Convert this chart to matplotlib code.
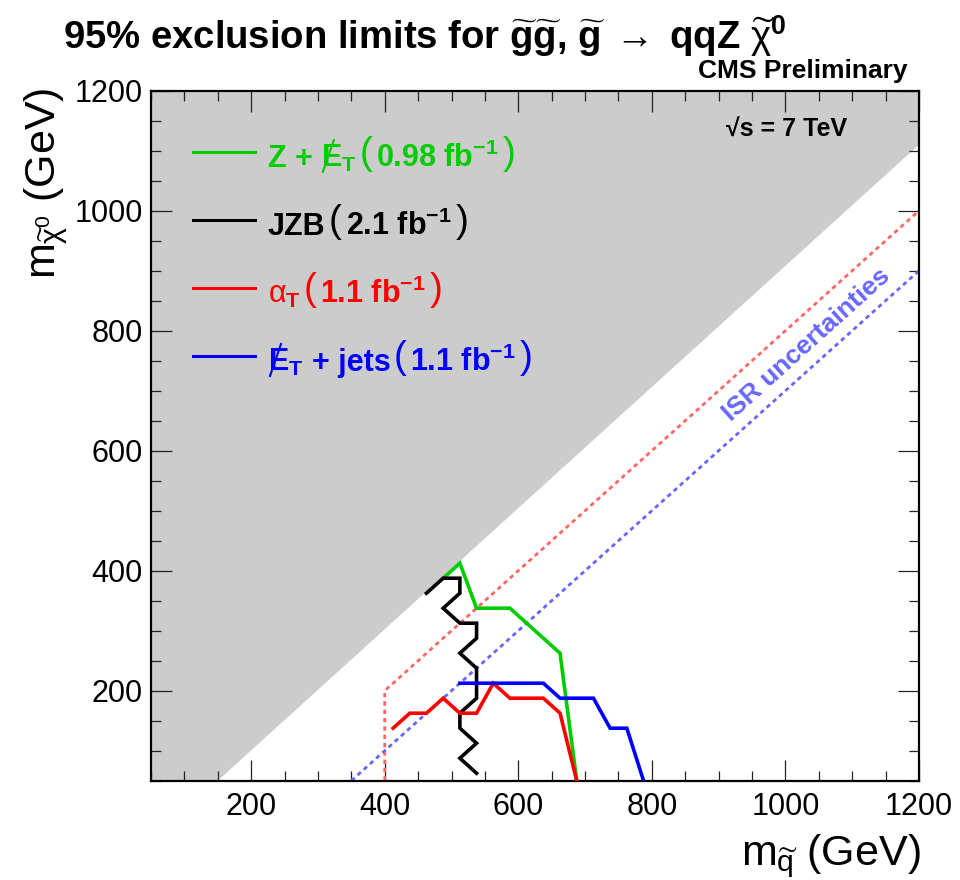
"""CMS SUSY: 95% CL exclusion limits in the gluino / LSP mass plane (qqZ chi0)."""
import matplotlib
matplotlib.use("Agg")
import matplotlib.pyplot as plt
from matplotlib.lines import Line2D
from matplotlib.ticker import MultipleLocator

plt.rcParams["font.family"] = ["Liberation Sans", "DejaVu Sans"]
plt.rcParams["mathtext.fontset"] = "custom"
plt.rcParams["mathtext.rm"] = "Liberation Sans"
plt.rcParams["mathtext.it"] = "Liberation Sans"
plt.rcParams["mathtext.bf"] = "Liberation Sans:bold"
plt.rcParams["mathtext.fallback"] = "stixsans"

W, H = 960, 880

# kinematically forbidden region (grey)
kin_x = [50, 150, 1200, 1200, 50]
kin_y = [50, 50, 1110, 1200, 1200]

# observed limit contours (m_gluino, m_chi0) in GeV
zmet_x = [487.5, 512.5, 537.5, 587.5, 662.5, 687.5]
zmet_y = [387.5, 412.5, 337.5, 337.5, 262.5, 50]
jzb_x = [462.5, 487.5, 512.5, 512.5, 487.5, 512.5, 537.5, 537.5,
         512.5, 537.5, 537.5, 512.5, 512.5, 537.5, 512.5, 537.5]
jzb_y = [362.5, 387.5, 387.5, 362.5, 337.5, 312.5, 312.5, 287.5,
         262.5, 237.5, 187.5, 162.5, 137.5, 112.5, 87.5, 62.5]
alphat_x = [412.5, 437.5, 462.5, 487.5, 512.5, 537.5, 562.5, 587.5, 637.5, 662.5, 687.5]
alphat_y = [137.5, 162.5, 162.5, 187.5, 162.5, 162.5, 212.5, 187.5, 187.5, 162.5, 50]
mht_x = [512.5, 637.5, 662.5, 712.5, 737.5, 762.5, 787.5]
mht_y = [212.5, 212.5, 187.5, 187.5, 137.5, 137.5, 50]

# ISR uncertainty boundaries
isr_red_x = [400, 400, 1200]
isr_red_y = [50, 200, 1000]
isr_blue_x = [350, 1200]
isr_blue_y = [50, 900]

GREEN, RED, BLUE = "#00cc00", "#ff0000", "#0000ff"
MET = "MET"   # placeholder: E_T with a slash through the E
leg_names = [["Z +", MET], ["JZB"], [r"$\alpha_{\mathbf{T}}$"], [MET, "+ jets"]]
leg_lumi = ["0.98", "2.1", "1.1", "1.1"]
leg_colors = [GREEN, "black", RED, BLUE]
leg_rows_px = [152, 220, 288, 356]

fig = plt.figure(figsize=(W / 100, H / 100), dpi=100)
ax = fig.add_axes([151 / W, 1 - 780.7 / H, 768 / W, 690 / H])

ax.fill(kin_x, kin_y, color="#cccccc", lw=0, zorder=1)
ax.plot(isr_red_x, isr_red_y, color="#ff6666", lw=2, dashes=(1.6, 1.4), zorder=2)
ax.plot(isr_blue_x, isr_blue_y, color="#6666ff", lw=2, dashes=(1.6, 1.4), zorder=2)
for x, y, c in [(zmet_x, zmet_y, GREEN), (jzb_x, jzb_y, "black"),
                (alphat_x, alphat_y, RED), (mht_x, mht_y, BLUE)]:
    ax.plot(x, y, color=c, lw=2.6, solid_joinstyle="miter", zorder=3)

ax.text(1032, 776, "ISR uncertainties", rotation=45, transform_rotates_text=True,
        rotation_mode="anchor", ha="center", va="center", color="#6666ff",
        fontsize=19, fontweight="bold")

ax.text(0.907, 0.933, "\u221as = 7 TeV", transform=ax.transAxes, ha="right",
        va="baseline", fontsize=18, fontweight="bold")

ax.set_xlim(50, 1200)
ax.set_ylim(50, 1200)
for a in (ax.xaxis, ax.yaxis):
    a.set_major_locator(MultipleLocator(200))
    a.set_minor_locator(MultipleLocator(50))
ax.tick_params(which="both", direction="in", top=True, right=True, width=0.9,
               color="#222222", labelsize=22)
ax.tick_params(which="major", length=15)
ax.tick_params(which="minor", length=7.5)
ax.tick_params(axis="x", pad=8)
ax.tick_params(axis="y", pad=6)
for s in ax.spines.values():
    s.set_linewidth(1.6)

# ---- legend, laid out piece by piece like the ROOT TLatex one ----
renderer = fig.canvas.get_renderer()


def put(xpx, ypx, s, **kw):
    t = fig.text(xpx / W, 1 - ypx / H, s, ha="left", va="baseline", **kw)
    return t.get_window_extent(renderer).width


for names, lumi, c, row in zip(leg_names, leg_lumi, leg_colors, leg_rows_px):
    yf = (780.7 - row) / 690
    ax.plot([0.055, 0.135], [yf, yf], color=c, lw=2.2, transform=ax.transAxes, zorder=4)
    base = row + 15
    x = 268
    for k, nm in enumerate(names):
        if k:
            x += 8
        if nm == MET:
            # slash drawn over the left part of the E (ROOT #slash{E})
            fig.add_artist(Line2D([(x + 2) / W, (x + 13) / W],
                                  [1 - (base + 5) / H, 1 - (base - 27) / H],
                                  color=c, lw=1.5))
            x += put(x, base, r"$\mathbf{E_T}$", color=c, fontsize=22)
        else:
            x += put(x, base, nm, color=c, fontsize=22, fontweight="bold")
    x += 3
    x += put(x, base - 3, "(", color=c, fontsize=28)
    x += 4
    x += put(x, base, lumi + r" fb$^{\mathbf{-1}}$", color=c, fontsize=22,
             fontweight="bold")
    x += 4
    put(x, base - 3, ")", color=c, fontsize=28)

fig.text(63 / W, 1 - 49 / H,
         r"95% exclusion limits for $\mathbf{\widetilde{g}\widetilde{g}}$, "
         r"$\mathbf{\widetilde{g}}\;\rightarrow\;$qqZ $\widetilde{\chi}^{\mathbf{0}}$",
         fontsize=27.5, fontweight="bold", ha="left", va="baseline")
fig.text(907 / W, 1 - 78 / H, "CMS Preliminary", fontsize=19,
         fontweight="bold", ha="right", va="baseline")
fig.text(921 / W, 1 - 865 / H, r"$m_{\widetilde{q}}$ (GeV)", fontsize=31,
         ha="right", va="baseline")
fig.text(55 / W, 1 - 87 / H, r"$m_{\widetilde{\chi}^{0}}$ (GeV)", fontsize=31,
         rotation=90, rotation_mode="anchor", ha="right", va="baseline")

fig.savefig("out.png", dpi=100, facecolor="white")
